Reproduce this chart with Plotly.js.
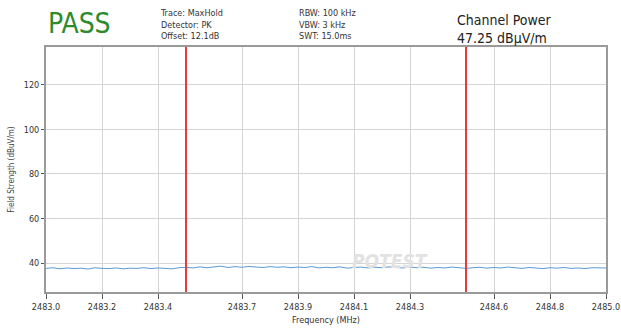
<!DOCTYPE html>
<html>
<head>
<meta charset="utf-8">
<script src="https://cdn.plot.ly/plotly-3.0.1.min.js"></script>
<style>
html,body{margin:0;padding:0;background:#fff;}
#chart{width:621px;height:330px;}
</style>
</head>
<body>
<div id="chart"></div>
<script>
// ---- data ----
const freqMHz = [
  2483.000,2483.025,2483.050,2483.075,2483.100,2483.125,2483.150,2483.175,2483.200,2483.225,
  2483.250,2483.275,2483.300,2483.325,2483.350,2483.375,2483.400,2483.425,2483.450,2483.475,
  2483.500,2483.525,2483.550,2483.575,2483.600,2483.625,2483.650,2483.675,2483.700,2483.725,
  2483.750,2483.775,2483.800,2483.825,2483.850,2483.875,2483.900,2483.925,2483.950,2483.975,
  2484.000,2484.025,2484.050,2484.075,2484.100,2484.125,2484.150,2484.175,2484.200,2484.225,
  2484.250,2484.275,2484.300,2484.325,2484.350,2484.375,2484.400,2484.425,2484.450,2484.475,
  2484.500,2484.525,2484.550,2484.575,2484.600,2484.625,2484.650,2484.675,2484.700,2484.725,
  2484.750,2484.775,2484.800,2484.825,2484.850,2484.875,2484.900,2484.925,2484.950,2484.975,
  2485.000
];
const fieldStrength = [
  37.6,37.9,37.4,37.8,37.5,37.7,37.3,37.9,37.6,37.5,
  37.8,37.4,37.7,37.6,37.9,37.5,37.8,37.6,37.4,37.9,
  38.1,37.8,38.3,37.9,38.2,38.6,38.0,38.4,38.1,38.5,
  38.2,38.0,38.4,38.1,38.3,37.9,38.2,38.0,38.4,37.8,
  38.1,37.9,38.3,37.7,38.0,38.2,37.8,38.1,37.9,38.3,
  38.0,37.8,38.2,37.9,38.1,37.7,38.0,37.8,38.2,37.9,
  37.6,37.9,38.1,37.7,38.0,37.8,38.2,37.9,37.6,38.0,
  37.8,37.5,37.9,37.7,38.0,37.6,37.8,37.5,37.9,37.7,
  37.8
];
const channelEdges = [2483.5, 2484.5];
const xTickVals = [2483.0,2483.2,2483.4,2483.7,2483.9,2484.1,2484.3,2484.6,2484.8,2485.0];
const xTickText = ["2483.0","2483.2","2483.4","2483.7","2483.9","2484.1","2484.3","2484.6","2484.8","2485.0"];
const yTickVals = [40,60,80,100,120];
const verdict = "PASS";
const traceInfo = ["Trace: MaxHold","Detector: PK","Offset: 12.1dB"];
const bwInfo = ["RBW: 100 kHz","VBW: 3 kHz","SWT: 15.0ms"];
const channelPower = ["Channel Power","47.25 dBµV/m"];

const FONT = "'Liberation Sans Narrow','DejaVu Sans Condensed','Liberation Sans',sans-serif";

const traces = [{
  x: freqMHz, y: fieldStrength, type: 'scatter', mode: 'lines',
  line: {color: '#5b9bd5', width: 1}, hoverinfo: 'skip', showlegend: false
}];

const shapes = channelEdges.map(f => ({
  type: 'line', xref: 'x', yref: 'paper', x0: f, x1: f, y0: 0, y1: 1,
  line: {color: '#e83a36', width: 2}
}));

const annotations = [
  {xref:'paper', yref:'paper', x:0.0, y:1.097, xanchor:'left', yanchor:'middle', showarrow:false,
   text: verdict, font:{family:FONT, size:28, color:'#2e8b2e'}},
  {xref:'paper', yref:'paper', x:0.2, y:1.093, xanchor:'left', yanchor:'middle', showarrow:false, align:'left',
   text: traceInfo.join('<br>'), font:{family:FONT, size:9, color:'#333'}},
  {xref:'paper', yref:'paper', x:0.448, y:1.093, xanchor:'left', yanchor:'middle', showarrow:false, align:'left',
   text: bwInfo.join('<br>'), font:{family:FONT, size:9, color:'#333'}},
  {xref:'paper', yref:'paper', x:0.73, y:1.075, xanchor:'left', yanchor:'middle', showarrow:false, align:'left',
   text: channelPower.join('<br>'), font:{family:FONT, size:14, color:'#222'}},
  {xref:'x', yref:'y', x:2484.23, y:40.8, xanchor:'center', yanchor:'middle', showarrow:false,
   text:'POTEST', font:{family:FONT, size:19, color:'#e2e2e2', style:'italic', weight:700}}
];

const layout = {
  width: 621, height: 330,
  margin: {l:46, r:15, t:47, b:38, pad:0},
  paper_bgcolor: '#fff', plot_bgcolor: '#fff',
  font: {family: FONT, size: 9, color: '#333'},
  xaxis: {
    range: [2483.0, 2485.0], tickmode: 'array', tickvals: xTickVals, ticktext: xTickText,
    showgrid: true, gridcolor: '#d4d4d4', gridwidth: 1,
    showline: true, linecolor: '#9a9a9a', linewidth: 2, mirror: true,
    ticks: 'outside', ticklen: 5, tickcolor: '#555', tickfont: {size: 9, color: '#333'},
    zeroline: false,
    title: {text: 'Frequency (MHz)', font: {size: 9, color: '#333'}, standoff: 6}
  },
  yaxis: {
    range: [27, 137], tickmode: 'array', tickvals: yTickVals,
    showgrid: true, gridcolor: '#d4d4d4', gridwidth: 1,
    showline: true, linecolor: '#9a9a9a', linewidth: 2, mirror: true,
    ticks: 'outside', ticklen: 3, tickcolor: '#555', tickfont: {size: 9, color: '#333'},
    zeroline: false,
    title: {text: 'Field Strength (dBuV/m)', font: {size: 8, color: '#444'}, standoff: 8}
  },
  shapes: shapes,
  annotations: annotations
};

Plotly.newPlot('chart', traces, layout, {displayModeBar: false, staticPlot: true});
</script>
</body>
</html>
